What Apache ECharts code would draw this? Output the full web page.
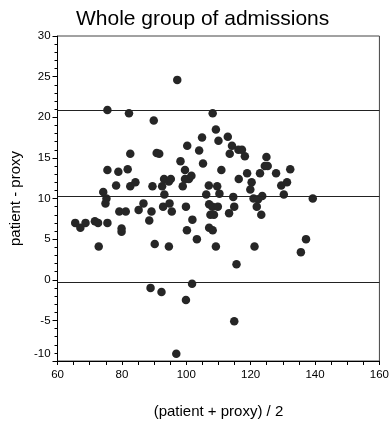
<!DOCTYPE html>
<html>
<head>
<meta charset="utf-8">
<script src="https://cdn.jsdelivr.net/npm/echarts@6/dist/echarts.min.js"></script>
<style>
html,body{margin:0;padding:0;background:#fff;}
#c{width:392px;height:424px;}
</style>
</head>
<body>
<div id="c"></div>
<script>
const titleText = 'Whole group of admissions';
const xName = '(patient + proxy) / 2';
const yName = 'patient - proxy';

// (patient + proxy) / 2
const avg = [
  75.5, 82.2, 89.9, 97.2, 108.2, 109.2, 104.9, 110.0, 112.9, 100.3,
  114.2, 104.0, 116.2, 117.3, 118.2, 113.5, 82.6, 90.8, 91.6, 124.9,
  98.2, 105.2, 75.5, 78.9, 81.8, 99.6, 110.9, 118.9, 122.9, 124.4,
  125.3, 127.9, 132.3, 78.2, 82.6, 84.2, 89.5, 92.5, 93.1, 94.6,
  95.2, 98.9, 99.6, 100.8, 101.6, 107.0, 109.6, 116.3, 120.3, 119.9,
  129.5, 131.3, 74.2, 75.2, 74.9, 93.2, 106.2, 110.3, 114.6, 120.9,
  122.3, 123.6, 130.3, 139.3, 86.7, 79.2, 81.2, 85.2, 89.2, 92.8,
  94.8, 95.5, 99.9, 107.1, 108.1, 109.8, 107.5, 108.6, 114.9, 113.3,
  121.9, 123.3, 65.5, 67.1, 68.7, 71.6, 72.6, 75.5, 79.9, 79.9,
  88.5, 101.9, 100.2, 103.3, 107.1, 108.2, 72.8, 90.2, 94.6, 109.2,
  121.2, 137.2, 135.6, 115.6, 88.9, 92.3, 101.8, 99.9, 114.9, 96.9
];
// patient - proxy
const diff = [
  20.9, 20.5, 19.6, 24.6, 20.5, 18.5, 17.5, 17.1, 17.6, 16.5,
  16.5, 15.9, 16.0, 16.0, 15.2, 15.5, 15.5, 15.6, 15.5, 15.1,
  14.6, 14.3, 13.5, 13.3, 13.6, 13.5, 13.5, 13.1, 13.1, 14.0,
  14.0, 13.1, 13.6, 11.6, 11.5, 12.0, 11.5, 11.5, 12.4, 12.1,
  12.4, 11.5, 12.4, 12.4, 12.8, 11.6, 11.5, 12.4, 12.0, 11.1,
  11.6, 12.0, 10.8, 10.0, 9.4, 10.5, 10.5, 10.6, 10.2, 10.0,
  9.9, 10.3, 10.5, 10.0, 9.4, 8.4, 8.4, 8.6, 8.4, 9.0,
  9.4, 8.4, 9.0, 9.3, 9.0, 9.0, 8.0, 8.0, 9.0, 8.2,
  9.0, 8.0, 7.0, 6.4, 7.0, 7.2, 7.0, 7.0, 6.3, 5.9,
  7.3, 7.4, 6.1, 5.0, 6.4, 6.1, 4.1, 4.4, 4.1, 4.1,
  4.1, 5.0, 3.4, 1.9, -1.0, -1.5, -0.5, -2.5, -5.1, -9.1
];
// upper limit, mean difference, lower limit
const limits = [20.9, 10.3, -0.3];

const xRange = [60, 160];
const yRange = [-10, 30];

const points = avg.map((a, i) => [a, diff[i]]);
const FONT = '"Liberation Sans", Arial, Helvetica, sans-serif';

const chart = echarts.init(document.getElementById('c'), null, {renderer: 'canvas'});
chart.setOption({
  backgroundColor: '#fff',
  animation: false,
  title: {
    text: titleText,
    left: 71,
    top: 4,
    textStyle: {fontFamily: FONT, fontSize: 21, fontWeight: 'normal', color: '#000'}
  },
  grid: {
    left: 57, right: 10, top: 36, bottom: 61,
    show: true, borderColor: '#444', borderWidth: 1, backgroundColor: 'transparent'
  },
  xAxis: {
    type: 'value',
    min: xRange[0], max: xRange[1], interval: 20,
    name: xName, nameLocation: 'middle', nameGap: 43,
    nameTextStyle: {fontFamily: FONT, fontSize: 15, color: '#000'},
    axisLine: {show: true, onZero: false, lineStyle: {color: '#000', width: 1}},
    axisTick: {show: true, inside: false, length: 4, lineStyle: {color: '#000'}},
    minorTick: {show: true, splitNumber: 4, length: 4, lineStyle: {color: '#000'}},
    splitLine: {show: false},
    axisLabel: {fontFamily: FONT, fontSize: 11.5, color: '#000', margin: 8}
  },
  yAxis: {
    type: 'value',
    min: yRange[0], max: yRange[1], interval: 5,
    name: yName, nameLocation: 'middle', nameGap: 34, nameRotate: 90,
    nameTextStyle: {fontFamily: FONT, fontSize: 15, color: '#000'},
    axisLine: {show: true, onZero: false, lineStyle: {color: '#000', width: 1}},
    axisTick: {show: true, inside: false, length: 5, lineStyle: {color: '#000'}},
    minorTick: {show: true, splitNumber: 5, length: 3, lineStyle: {color: '#000'}},
    splitLine: {show: false},
    axisLabel: {
      fontFamily: FONT, fontSize: 11.5, color: '#000', margin: 7,
      formatter: function (v) { return v === -10 ? '{s|-10}' : String(v); },
      rich: {s: {fontFamily: FONT, fontSize: 11.5, color: '#000', padding: [0, 0, 14, 0]}}
    }
  },
  series: [{
    type: 'scatter',
    data: points,
    symbol: 'circle',
    symbolSize: 8.5,
    itemStyle: {color: '#262626', opacity: 1},
    markLine: {
      silent: true,
      symbol: 'none',
      label: {show: false},
      lineStyle: {color: '#222', width: 1, type: 'solid'},
      data: limits.map(v => ({yAxis: v}))
    }
  }]
});
</script>
</body>
</html>
